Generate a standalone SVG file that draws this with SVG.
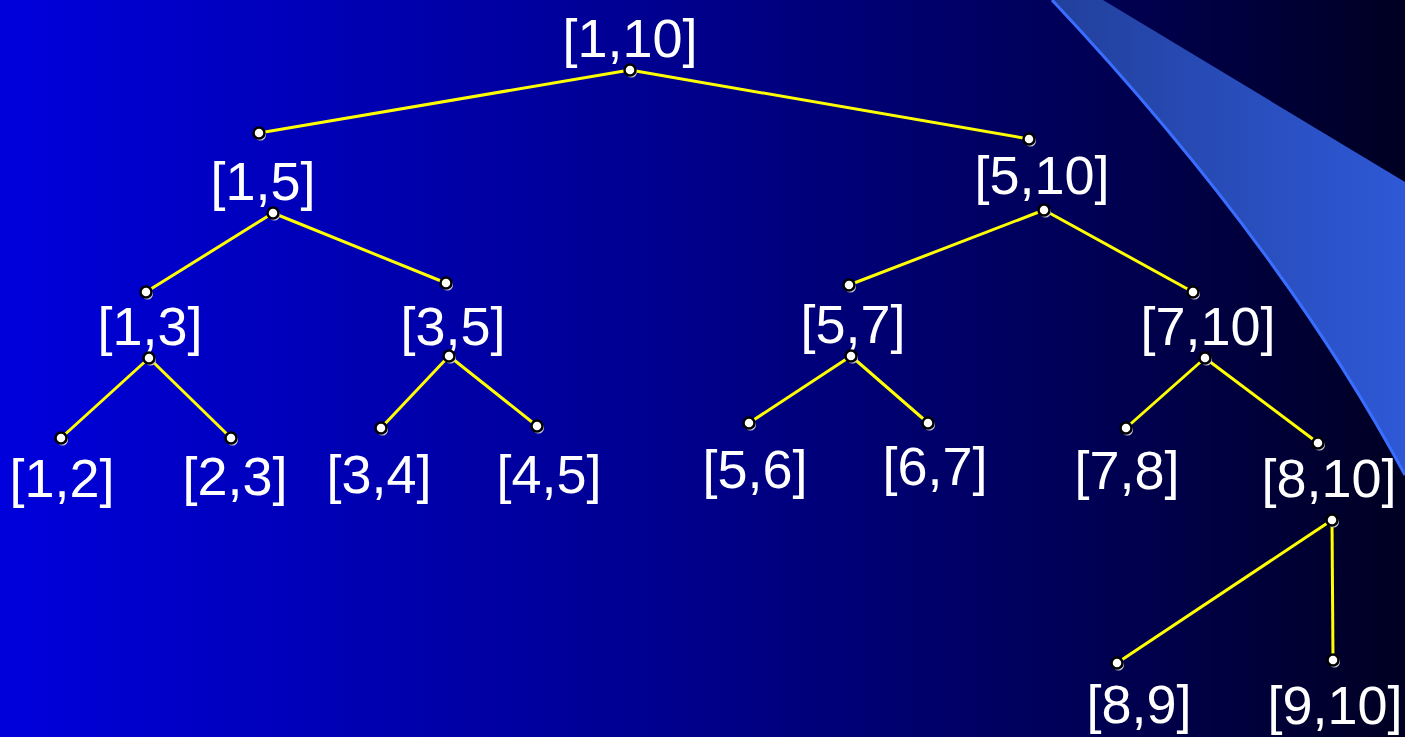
<svg xmlns="http://www.w3.org/2000/svg" width="1405" height="737" viewBox="0 0 1405 737">
<defs>
<linearGradient id="bg" x1="0" y1="0" x2="1" y2="0">
<stop offset="0" stop-color="#0000dc"/>
<stop offset="0.5" stop-color="#00008a"/>
<stop offset="0.8" stop-color="#000050"/>
<stop offset="1" stop-color="#000022"/>
</linearGradient>
<linearGradient id="band" x1="1052" y1="0" x2="1405" y2="0" gradientUnits="userSpaceOnUse">
<stop offset="0" stop-color="#22409c"/>
<stop offset="1" stop-color="#2e58d6"/>
</linearGradient>
<g id="dot">
<circle cx="1.5" cy="2" r="5.5" fill="#c8c8d8"/>
<circle cx="0" cy="0" r="5.5" fill="#ffffff" stroke="#000000" stroke-width="2.5"/>
</g>
</defs>
<style>
text{font-family:"Liberation Sans",Arial,sans-serif;font-size:54px;fill:#ffffff;text-anchor:middle}
.edge{stroke:#ffff00;stroke-width:3;fill:none}
</style>
<rect x="0" y="0" width="1405" height="737" fill="url(#bg)"/>
<path d="M1052,0 L1103,0 L1405,182 L1405,475 C1300,280 1160,115 1052,0 Z" fill="url(#band)"/>
<path d="M1052,0 C1160,115 1300,280 1405,475" fill="none" stroke="#3a6eff" stroke-width="3"/>
<g id="connectors">
<line class="edge" x1="630" y1="70" x2="259" y2="133"/>
<line class="edge" x1="630" y1="70" x2="1029" y2="139"/>
<line class="edge" x1="273" y1="213" x2="146" y2="292"/>
<line class="edge" x1="273" y1="213" x2="446" y2="283"/>
<line class="edge" x1="1044" y1="210" x2="849" y2="285"/>
<line class="edge" x1="1044" y1="210" x2="1193" y2="292"/>
<line class="edge" x1="149" y1="358" x2="61" y2="438"/>
<line class="edge" x1="149" y1="358" x2="231" y2="438"/>
<line class="edge" x1="449" y1="356" x2="381" y2="428"/>
<line class="edge" x1="449" y1="356" x2="537" y2="426"/>
<line class="edge" x1="851" y1="356" x2="749" y2="423"/>
<line class="edge" x1="851" y1="356" x2="928" y2="423"/>
<line class="edge" x1="1205" y1="358" x2="1126" y2="428"/>
<line class="edge" x1="1205" y1="358" x2="1318" y2="443"/>
<line class="edge" x1="1332" y1="520" x2="1117" y2="663"/>
<line class="edge" x1="1332" y1="520" x2="1333" y2="660"/>
</g>
<g id="n110"><text x="630" y="57">[1,10]</text><use href="#dot" x="630" y="70"/></g>
<g id="n15"><use href="#dot" x="259" y="133"/><text x="263" y="200">[1,5]</text><use href="#dot" x="273" y="213"/></g>
<g id="n510"><use href="#dot" x="1029" y="139"/><text x="1042" y="194">[5,10]</text><use href="#dot" x="1044" y="210"/></g>
<g id="n13"><use href="#dot" x="146" y="292"/><text x="150" y="345">[1,3]</text><use href="#dot" x="149" y="358"/></g>
<g id="n35"><use href="#dot" x="446" y="283"/><text x="453" y="345">[3,5]</text><use href="#dot" x="449" y="356"/></g>
<g id="n57"><use href="#dot" x="849" y="285"/><text x="853" y="343">[5,7]</text><use href="#dot" x="851" y="356"/></g>
<g id="n710"><use href="#dot" x="1193" y="292"/><text x="1208" y="345">[7,10]</text><use href="#dot" x="1205" y="358"/></g>
<g id="n12"><use href="#dot" x="61" y="438"/><text x="62" y="497">[1,2]</text></g>
<g id="n23"><use href="#dot" x="231" y="438"/><text x="235" y="495">[2,3]</text></g>
<g id="n34"><use href="#dot" x="381" y="428"/><text x="379" y="493">[3,4]</text></g>
<g id="n45"><use href="#dot" x="537" y="426"/><text x="549" y="493">[4,5]</text></g>
<g id="n56"><use href="#dot" x="749" y="423"/><text x="755" y="488">[5,6]</text></g>
<g id="n67"><use href="#dot" x="928" y="423"/><text x="935" y="485">[6,7]</text></g>
<g id="n78"><use href="#dot" x="1126" y="428"/><text x="1127" y="489">[7,8]</text></g>
<g id="n810"><use href="#dot" x="1318" y="443"/><text x="1329" y="497">[8,10]</text><use href="#dot" x="1332" y="520"/></g>
<g id="n89"><use href="#dot" x="1117" y="663"/><text x="1139" y="723">[8,9]</text></g>
<g id="n910"><use href="#dot" x="1333" y="660"/><text x="1335" y="724">[9,10]</text></g>
</svg>
